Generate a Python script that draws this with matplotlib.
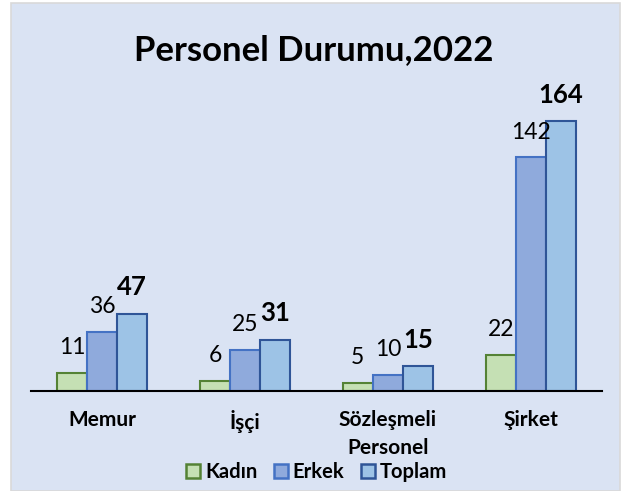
import numpy as np
import matplotlib
matplotlib.use("Agg")
import matplotlib.pyplot as plt
from matplotlib.patches import Rectangle, Patch

plt.rcParams['font.family'] = ['Lato', 'DejaVu Sans']

# data
categories = ["Memur", "İşçi", "Sözleşmeli\nPersonel", "Şirket"]
kadin = [11, 6, 5, 22]
erkek = [36, 25, 10, 142]
toplam = [47, 31, 15, 164]

series = [
    ("Kadın", kadin, "#C5E0B4", "#548235", False),
    ("Erkek", erkek, "#8FAADC", "#4472C4", False),
    ("Toplam", toplam, "#9DC3E6", "#2F5597", True),
]

fig = plt.figure(figsize=(6.27, 4.91), dpi=100)
fig.patch.set_facecolor("white")
# chart area background box
fig.patches.append(Rectangle((11/627, 0), 609/627, 1 - 3/491, transform=fig.transFigure,
                             facecolor="#DAE3F3", edgecolor="#D9D9D9", lw=1.2, zorder=-5))

ax = fig.add_axes([31/627, 100/491, 571/627, 296/491])
ax.set_facecolor("none")
ax.set_zorder(2)

x = np.arange(len(categories))
w = 0.21
for i, (name, vals, fc, ec, bold) in enumerate(series):
    pos = x + (i - 1) * w
    ax.bar(pos, vals, w, color=fc, edgecolor=ec, linewidth=1.5, label=name, zorder=2)
    for px, v in zip(pos, vals):
        ax.annotate(str(v), (px, v), xytext=(0, 13.5), textcoords="offset points",
                    ha="center", va="baseline",
                    fontsize=18.5 if bold else 16.5,
                    fontweight="bold" if bold else "normal", color="black")

ax.set_xlim(-0.5, len(categories) - 0.5)
ax.set_ylim(0, 180)
ax.set_yticks([])
for s in ["top", "right", "left"]:
    ax.spines[s].set_visible(False)
ax.spines["bottom"].set_linewidth(1.5)
ax.spines["bottom"].set_color("black")
ax.set_xticks(x)
ax.set_xticklabels(categories, fontsize=15, fontweight="bold", linespacing=1.5)
ax.tick_params(axis="x", length=0, pad=14)

fig.text(0.5, 1 - 50/491, "Personel Durumu,2022", ha="center", va="center",
         fontsize=25, fontweight="bold")

handles = [Patch(facecolor=fc, edgecolor=ec, linewidth=1.8, label=name)
           for name, _, fc, ec, _ in series]
fig.legend(handles=handles, loc="center", bbox_to_anchor=(0.505, 1 - 472/491), ncol=3,
           frameon=False, prop={"size": 14.5, "weight": "bold"},
           handlelength=0.7, handleheight=0.7, handletextpad=0.25, columnspacing=0.8)

fig.savefig("out.png", dpi=100)
